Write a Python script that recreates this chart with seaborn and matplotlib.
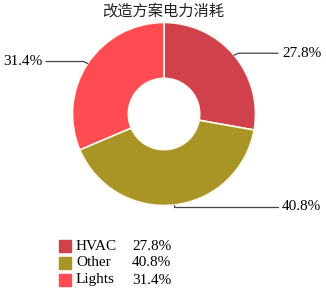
import numpy as np
import matplotlib
matplotlib.use("Agg")
import matplotlib.pyplot as plt
import seaborn as sns
from matplotlib.patches import Rectangle

# data
categories = ["HVAC", "Other", "Lights"]
shares = [27.8, 40.8, 31.4]
colors = ["#D0414B", "#A89526", "#FF4B52"]
title = "改造方案电力消耗"

sns.set_theme(style="white")
plt.rcParams['font.family'] = ['Liberation Serif', 'Noto Sans CJK SC', 'DejaVu Sans']

W, H = 326, 290
fig = plt.figure(figsize=(W / 100, H / 100), dpi=100)
ax = fig.add_axes([0, 0, 1, 1])

cx, cy, r = 164, H - 114, 91.5
wedges, _ = ax.pie(shares, colors=colors, startangle=90, counterclock=False,
                   center=(cx, cy), radius=r, frame=True,
                   wedgeprops=dict(width=r * 0.61, edgecolor='#FFF8EE', linewidth=1.2))
ax.set_xlim(0, W)
ax.set_ylim(0, H)
ax.set_aspect('equal')
ax.axis('off')

fs = 11

# leader lines + labels
ends = {"HVAC": (278, 282, 'left'), "Other": (278, 282, 'left'), "Lights": (46, 42, 'right')}
for w, name, val in zip(wedges, categories, shares):
    ang = np.deg2rad((w.theta1 + w.theta2) / 2)
    x0, y0 = cx + r * np.cos(ang), cy + r * np.sin(ang)
    xe, xt, ha = ends[name]
    if name == "Other":
        ax.plot([x0, x0, xe], [y0, y0 - 2, y0 - 2], color='#444444', lw=0.9)
        ty = y0 - 2
    else:
        ax.plot([x0, x0 + (4 if ha == 'left' else -4), xe], [y0, y0 + 2, y0 + 2], color='#444444', lw=0.9)
        ty = y0 + 2
    ax.text(xt, ty, f"{val:.1f}%", ha=ha, va='center', fontsize=fs, color='black')

ax.text(W / 2, H - 11, title, ha='center', va='center', fontsize=11,
        family=['Noto Sans CJK SC', 'DejaVu Sans'], color='#222222')

# legend
for i, (name, val, c) in enumerate(zip(categories, shares, colors)):
    y = H - (246 + i * 17)
    ax.add_patch(Rectangle((59, y - 6), 12, 12, color=c))
    ax.text(76, y, name, ha='left', va='center', fontsize=fs, color='black')
    ax.text(132, y, f"{val:.1f}%", ha='left', va='center', fontsize=fs, color='black')

fig.savefig("out.png", dpi=100)
